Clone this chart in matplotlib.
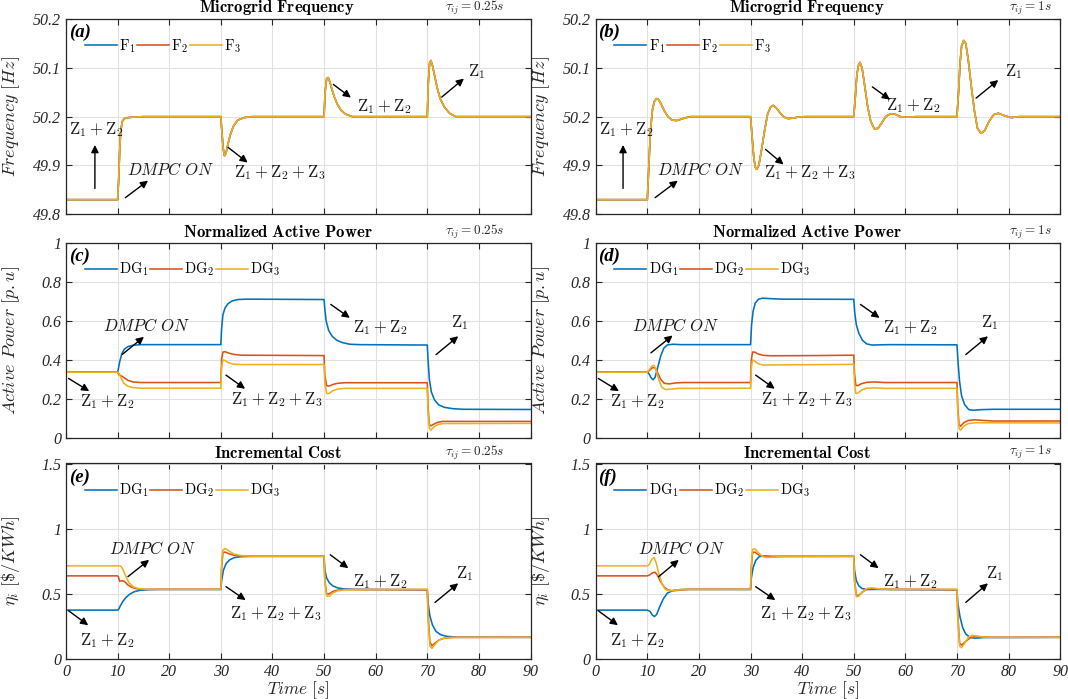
import matplotlib
matplotlib.use("Agg")
from matplotlib import pyplot as plt

# === Estilo general (tipo MATLAB) ===
plt.rcParams['mathtext.fontset'] = 'cm'
plt.rcParams['font.family'] = 'Liberation Serif'
plt.rcParams['font.style'] = 'italic'
plt.rcParams['axes.linewidth'] = 0.9

C_BLUE = '#0072BD'
C_RED = '#D95319'
C_YEL = '#EDB120'
C_AX = '#262626'

# === Frecuencia del microgrid (tau = 0.25 s) ===
t_fa = [0, 10, 10.2, 10.4, 10.6, 10.9, 11.3, 12, 13, 15, 30, 30.2, 30.45, 30.7, 31.0, 31.4, 31.9,
        32.5, 33.3, 34.5, 36, 50, 50.2, 50.5, 50.8, 51.1, 51.5, 52, 52.6, 53.3, 54.2, 55.5, 70,
        70.2, 70.45, 70.7, 71.0, 71.4, 71.9, 72.5, 73.3, 74.3, 75.5, 90]
freq_a = [49.83, 49.83, 49.87, 49.93, 49.97, 49.99, 49.996, 49.998, 49.999, 50.0, 50.0, 49.97,
          49.935, 49.92, 49.925, 49.945, 49.965, 49.982, 49.993, 49.998, 50.0, 50.0, 50.05, 50.078,
          50.08, 50.072, 50.057, 50.04, 50.025, 50.013, 50.005, 50.0, 50.0, 50.07, 50.11, 50.115,
          50.105, 50.085, 50.06, 50.037, 50.02, 50.007, 50.0, 50.0]

# === Frecuencia del microgrid (tau = 1 s) ===
t_fb = [0, 10, 10.3, 10.6, 11.0, 11.4, 11.8, 12.2, 12.7, 13.3, 14, 14.8, 15.7, 16.6, 17.5, 18.5,
        20, 30, 30.3, 30.6, 30.9, 31.2, 31.6, 32.1, 32.7, 33.3, 33.9, 34.4, 35.0, 35.7, 36.5, 37.3,
        38.2, 39.2, 40.5, 50, 50.3, 50.6, 50.9, 51.2, 51.6, 52.1, 52.7, 53.3, 54.0, 54.7, 55.4,
        56.2, 57.1, 58.0, 59.0, 60.5, 62, 70, 70.3, 70.6, 70.9, 71.3, 71.7, 72.2, 72.8, 73.4, 74.0,
        74.7, 75.4, 76.2, 77.1, 78.0, 79.2, 80.5, 82, 90]
freq_b = [49.83, 49.83, 49.90, 49.97, 50.015, 50.032, 50.037, 50.035, 50.025, 50.012, 50.0,
          49.993, 49.992, 49.995, 49.998, 50.0, 50.0, 50.0, 49.96, 49.92, 49.897, 49.892, 49.9,
          49.93, 49.97, 50.005, 50.02, 50.023, 50.018, 50.008, 49.999, 49.996, 49.997, 49.999,
          50.0, 50.0, 50.04, 50.085, 50.105, 50.111, 50.1, 50.065, 50.02, 49.99, 49.975, 49.976,
          49.987, 50.0, 50.006, 50.005, 50.0, 49.999, 50.0, 50.0, 50.05, 50.11, 50.145, 50.156,
          50.15, 50.115, 50.06, 50.01, 49.975, 49.966, 49.972, 49.99, 50.004, 50.007, 50.002,
          49.998, 50.0, 50.0]

# === Potencia activa normalizada (tau = 0.25 s) ===
t_pc1 = [0, 10, 10.15, 10.4, 10.8, 11.3, 12, 13, 14.5, 16, 30, 30.15, 30.4, 30.8, 31.4, 32.2, 33.3,
         35, 50, 50.15, 50.4, 50.9, 51.6, 52.5, 53.6, 55, 57, 70, 70.15, 70.4, 70.8, 71.4, 72.2,
         73.3, 75, 77, 90]
p_c1 = [0.337, 0.337, 0.355, 0.39, 0.43, 0.455, 0.468, 0.475, 0.478, 0.478, 0.478, 0.56, 0.63,
        0.665, 0.688, 0.702, 0.709, 0.711, 0.709, 0.66, 0.60, 0.55, 0.52, 0.50, 0.488, 0.48, 0.478,
        0.476, 0.40, 0.30, 0.235, 0.195, 0.17, 0.157, 0.15, 0.147, 0.146]
t_pc2 = [0, 10, 10.2, 10.6, 11.2, 12, 13, 14.5, 30, 30.15, 30.4, 30.8, 31.5, 32.5, 34, 50, 50.15,
         50.5, 51, 51.7, 52.6, 54, 70, 70.15, 70.4, 70.7, 71.2, 72, 73, 90]
p_c2 = [0.337, 0.337, 0.325, 0.32, 0.31, 0.295, 0.287, 0.284, 0.284, 0.40, 0.44, 0.442, 0.435,
        0.428, 0.424, 0.422, 0.32, 0.268, 0.266, 0.274, 0.28, 0.283, 0.283, 0.16, 0.07, 0.062,
        0.07, 0.08, 0.085, 0.085]
t_pc3 = [0, 10, 10.3, 10.7, 11.2, 12, 13, 14.5, 30, 30.15, 30.4, 30.8, 31.5, 32.5, 34, 50, 50.15,
         50.5, 51, 51.7, 52.6, 54, 70, 70.15, 70.4, 70.7, 71.2, 72, 73, 90]
p_c3 = [0.337, 0.337, 0.33, 0.305, 0.28, 0.265, 0.258, 0.255, 0.255, 0.36, 0.40, 0.397, 0.385,
        0.378, 0.376, 0.376, 0.28, 0.228, 0.228, 0.242, 0.25, 0.254, 0.254, 0.14, 0.05, 0.04,
        0.055, 0.068, 0.074, 0.075]

# === Potencia activa normalizada (tau = 1 s) ===
t_pd1 = [0, 10, 10.3, 10.7, 11.1, 11.5, 12, 12.6, 13.2, 13.9, 15, 16.5, 30, 30.2, 30.5, 30.9, 31.5,
         32.3, 33.5, 36, 50, 50.2, 50.5, 51, 51.7, 52.5, 53.5, 55, 57, 70, 70.2, 70.5, 70.9, 71.5,
         72.3, 73.2, 74.5, 77, 90]
p_d1 = [0.337, 0.337, 0.33, 0.31, 0.298, 0.31, 0.36, 0.42, 0.46, 0.477, 0.48, 0.478, 0.478, 0.58,
        0.65, 0.69, 0.71, 0.716, 0.714, 0.711, 0.71, 0.64, 0.58, 0.535, 0.5, 0.482, 0.476, 0.477,
        0.478, 0.477, 0.39, 0.29, 0.215, 0.17, 0.145, 0.142, 0.145, 0.147, 0.147]
t_pd2 = [0, 10, 10.4, 11, 11.5, 12, 12.6, 13.3, 14.2, 15.5, 17, 30, 30.15, 30.4, 30.8, 31.5, 32.5,
         34, 42, 50, 50.15, 50.4, 50.8, 51.5, 52.5, 54, 56, 70, 70.15, 70.4, 70.7, 71.3, 72.2, 73.5,
         75, 77, 90]
p_d2 = [0.337, 0.337, 0.345, 0.36, 0.36, 0.335, 0.3, 0.28, 0.277, 0.282, 0.284, 0.284, 0.40, 0.44,
        0.44, 0.43, 0.423, 0.421, 0.422, 0.424, 0.33, 0.27, 0.268, 0.278, 0.285, 0.287, 0.284,
        0.284, 0.16, 0.07, 0.06, 0.078, 0.09, 0.093, 0.09, 0.087, 0.087]
t_pd3 = [0, 10, 10.4, 10.9, 11.3, 11.7, 12.2, 12.8, 13.5, 14.5, 16, 30, 30.15, 30.4, 30.8, 31.5,
         32.5, 34, 50, 50.15, 50.4, 50.8, 51.5, 52.5, 54, 56, 70, 70.15, 70.4, 70.7, 71.3, 72.2,
         73.5, 90]
p_d3 = [0.337, 0.337, 0.35, 0.368, 0.372, 0.35, 0.3, 0.26, 0.248, 0.25, 0.254, 0.255, 0.36, 0.4,
        0.394, 0.38, 0.373, 0.374, 0.377, 0.28, 0.228, 0.23, 0.245, 0.255, 0.257, 0.254, 0.254,
        0.14, 0.05, 0.04, 0.06, 0.074, 0.078, 0.077]

# === Costo incremental (tau = 0.25 s) ===
t_ce1 = [0, 10, 10.2, 10.5, 11, 11.6, 12.3, 13.2, 14.3, 16, 18, 30, 30.15, 30.5, 31, 31.7, 32.6,
         33.8, 36, 50, 50.15, 50.5, 51, 51.7, 52.6, 53.8, 56, 70, 70.15, 70.5, 71, 71.7, 72.6, 73.8,
         76, 90]
c_e1 = [0.374, 0.374, 0.38, 0.405, 0.44, 0.47, 0.495, 0.515, 0.526, 0.531, 0.533, 0.533, 0.6, 0.68,
        0.73, 0.76, 0.777, 0.784, 0.787, 0.787, 0.68, 0.62, 0.585, 0.56, 0.545, 0.537, 0.533, 0.53,
        0.43, 0.33, 0.26, 0.21, 0.185, 0.172, 0.166, 0.165]
t_ce2 = [0, 10, 10.15, 10.4, 10.8, 11.3, 12, 12.8, 13.8, 15.5, 30, 30.15, 30.4, 30.8, 31.5, 32.5,
         34, 36, 50, 50.15, 50.5, 50.9, 51.6, 52.5, 54, 70, 70.15, 70.5, 70.9, 71.5, 72.3, 73.3, 75,
         90]
c_e2 = [0.637, 0.637, 0.63, 0.595, 0.6, 0.595, 0.567, 0.548, 0.537, 0.533, 0.533, 0.7, 0.815, 0.82,
        0.808, 0.795, 0.789, 0.787, 0.787, 0.6, 0.5, 0.497, 0.515, 0.527, 0.532, 0.531, 0.35, 0.13,
        0.1, 0.12, 0.145, 0.158, 0.164, 0.165]
t_ce3 = [0, 10, 10.6, 11, 11.5, 12.2, 13, 14, 15.5, 30, 30.15, 30.4, 30.8, 31.5, 32.5, 34, 36, 50,
         50.15, 50.5, 51, 51.7, 52.6, 54, 70, 70.15, 70.5, 70.9, 71.5, 72.3, 73.3, 75, 90]
c_e3 = [0.714, 0.714, 0.712, 0.69, 0.64, 0.585, 0.553, 0.54, 0.534, 0.534, 0.72, 0.835, 0.848,
        0.83, 0.805, 0.792, 0.788, 0.788, 0.6, 0.482, 0.48, 0.505, 0.522, 0.53, 0.534, 0.33, 0.1,
        0.08, 0.11, 0.145, 0.16, 0.165, 0.165]

# === Costo incremental (tau = 1 s) ===
t_cf1 = [0, 10, 10.5, 11, 11.4, 11.8, 12.4, 13.1, 13.9, 15, 16.5, 18, 30, 30.15, 30.5, 31, 31.7,
         32.5, 34, 50, 50.15, 50.5, 51, 51.6, 52.5, 54, 70, 70.15, 70.6, 71.1, 71.7, 72.5, 73.5, 75,
         90]
c_f1 = [0.374, 0.374, 0.365, 0.335, 0.325, 0.34, 0.4, 0.46, 0.505, 0.525, 0.532, 0.533, 0.533, 0.62,
        0.7, 0.755, 0.785, 0.79, 0.787, 0.787, 0.68, 0.6, 0.56, 0.54, 0.532, 0.533, 0.53, 0.43,
        0.32, 0.24, 0.19, 0.165, 0.158, 0.163, 0.165]
t_cf2 = [0, 10, 10.5, 11, 11.5, 12, 12.6, 13.3, 14, 15, 16.5, 18, 30, 30.15, 30.4, 30.8, 31.5, 32.5,
         34, 36, 50, 50.15, 50.5, 50.9, 51.6, 52.5, 53.5, 55, 57, 70, 70.15, 70.5, 70.9, 71.6, 72.5,
         73.5, 75, 77, 90]
c_f2 = [0.637, 0.637, 0.645, 0.66, 0.665, 0.64, 0.59, 0.55, 0.528, 0.522, 0.528, 0.533, 0.533, 0.7,
        0.815, 0.82, 0.8, 0.785, 0.782, 0.786, 0.787, 0.6, 0.49, 0.485, 0.51, 0.535, 0.54, 0.535,
        0.533, 0.531, 0.35, 0.12, 0.105, 0.13, 0.16, 0.172, 0.168, 0.165, 0.165]
t_cf3 = [0, 10, 10.4, 10.9, 11.3, 11.7, 12.2, 12.8, 13.5, 14.3, 15.5, 17, 30, 30.15, 30.4, 30.8,
         31.4, 32.2, 33, 34, 36, 50, 50.15, 50.5, 50.9, 51.6, 52.5, 53.5, 55, 57, 70, 70.15, 70.5,
         70.9, 71.5, 72.2, 72.9, 73.8, 75, 77, 90]
c_f3 = [0.714, 0.714, 0.725, 0.765, 0.778, 0.74, 0.66, 0.58, 0.533, 0.522, 0.527, 0.533, 0.534, 0.72,
        0.84, 0.845, 0.82, 0.79, 0.778, 0.78, 0.787, 0.788, 0.6, 0.478, 0.478, 0.51, 0.54, 0.545,
        0.537, 0.533, 0.534, 0.33, 0.1, 0.085, 0.12, 0.165, 0.18, 0.175, 0.168, 0.165, 0.165]

# === Ejes Y ===
freq_ticks = [49.8, 49.9, 50.0, 50.1, 50.2]
freq_ticklabels = ['49.8', '49.9', '50.2', '50.1', '50.2']
power_ticks = [0, 0.2, 0.4, 0.6, 0.8, 1.0]
power_ticklabels = ['0', '0.2', '0.4', '0.6', '0.8', '1']
cost_ticks = [0, 0.5, 1.0, 1.5]
cost_ticklabels = ['0', '0.5', '1', '1.5']
time_ticks = list(range(0, 91, 10))

Z12 = r'$\mathrm{Z}_1+\mathrm{Z}_2$'
Z123 = r'$\mathrm{Z}_1+\mathrm{Z}_2+\mathrm{Z}_3$'
Z1 = r'$\mathrm{Z}_1$'
DMPC = r'$DMPC\ ON$'

# (texto, posicion texto, cola flecha, punta flecha)
notes_a = [(Z12, (5.9, 49.973), (5.6, 49.853), (5.6, 49.942)),
           (DMPC, (20.3, 49.889), (11.5, 49.834), (15.9, 49.869)),
           (Z123, (41.5, 49.886), (31.4, 49.937), (35.2, 49.906)),
           (Z12, (61.7, 50.021), (51.8, 50.066), (55.2, 50.039)),
           (Z1, (79.6, 50.093), (72.8, 50.04), (77.1, 50.078))]
notes_b = [(Z12, (5.9, 49.973), (5.3, 49.853), (5.3, 49.942)),
           (DMPC, (20.3, 49.889), (11.5, 49.834), (15.9, 49.869)),
           (Z123, (41.5, 49.886), (32.9, 49.933), (36.4, 49.902)),
           (Z12, (61.5, 50.022), (53.6, 50.061), (57.0, 50.035)),
           (Z1, (81.0, 50.093), (73.7, 50.038), (78.0, 50.075))]
notes_c = [(DMPC, (15.5, 0.573), (10.9, 0.428), (15.1, 0.518)),
           (Z12, (8.0, 0.185), (0.5, 0.305), (4.5, 0.24)),
           (Z123, (40.8, 0.195), (31.0, 0.322), (34.7, 0.252)),
           (Z12, (61.0, 0.563), (51.3, 0.684), (55.0, 0.615)),
           (Z1, (76.3, 0.59), (71.7, 0.427), (76.0, 0.521))]
notes_d = [(DMPC, (15.5, 0.573), (10.7, 0.436), (14.9, 0.525)),
           (Z12, (8.0, 0.185), (0.5, 0.305), (4.5, 0.24)),
           (Z123, (40.8, 0.195), (31.0, 0.322), (34.7, 0.252)),
           (Z12, (61.0, 0.563), (51.3, 0.684), (55.0, 0.615)),
           (Z1, (76.3, 0.59), (71.7, 0.427), (76.0, 0.521))]
notes_e = [(DMPC, (16.7, 0.838), (12.0, 0.631), (16.1, 0.76)),
           (Z12, (8.0, 0.142), (0.5, 0.369), (4.3, 0.258)),
           (Z123, (40.7, 0.348), (31.0, 0.554), (34.8, 0.451)),
           (Z12, (61.0, 0.593), (51.2, 0.799), (54.7, 0.696)),
           (Z1, (77.3, 0.657), (71.5, 0.433), (76.0, 0.58))]
notes_f = [(DMPC, (16.7, 0.838), (12.2, 0.631), (16.1, 0.76)),
           (Z12, (8.0, 0.142), (0.5, 0.369), (4.3, 0.258)),
           (Z123, (40.7, 0.348), (31.0, 0.554), (34.8, 0.451)),
           (Z12, (61.0, 0.593), (51.3, 0.799), (54.8, 0.696)),
           (Z1, (77.3, 0.657), (71.7, 0.433), (76.0, 0.58))]


def setup_axes(ax, ylim, yticks, yticklabels, ylabel, title, tau, tag, bottom):
    ax.set_xlim(0, 90)
    ax.set_ylim(*ylim)
    ax.set_xticks(time_ticks)
    ax.set_yticks(yticks)
    ax.set_yticklabels(yticklabels)
    ax.grid(True, color='#e1e1e1', linewidth=0.8)
    ax.set_axisbelow(True)
    ax.tick_params(direction='in', top=True, right=True, length=4, width=0.8, color=C_AX,
                   labelsize=11.5, labelcolor=C_AX, labelbottom=bottom)
    for s in ax.spines.values():
        s.set_color(C_AX)
    ax.set_ylabel(ylabel, fontsize=13, color=C_AX)
    ax.yaxis.set_label_coords(-0.095, 0.5)
    if bottom:
        ax.set_xlabel(r'$Time\ [s]$', fontsize=12.5, color=C_AX)
        ax.xaxis.set_label_coords(0.5, -0.105)
    ax.text(0.455, 1.01, title, transform=ax.transAxes, ha='center', va='bottom', fontsize=12)
    ax.text(tau[1], 1.055, tau[0], transform=ax.transAxes, ha='center', va='center',
            fontsize=9.5, color=C_AX)
    ax.text(0.006, 0.93, tag, transform=ax.transAxes, ha='left', va='center', fontsize=13.5,
            fontweight='bold', fontstyle='italic')


def draw_notes(ax, notes):
    for label, pos, tail, head in notes:
        ax.text(pos[0], pos[1], label, ha='center', va='center', fontsize=12, color='#1a1a1a')
        ax.annotate('', xy=head, xytext=tail,
                    arrowprops=dict(arrowstyle='-|>', color='k', lw=1.0, mutation_scale=11,
                                    shrinkA=0, shrinkB=0))


def add_legend(ax, names):
    ax.legend(names, loc='center left', bbox_to_anchor=(0.04, 0.862), ncol=3, frameon=False,
              handlelength=2.2, handletextpad=0.15, columnspacing=0.12, borderpad=0,
              borderaxespad=0, fontsize=10.5)


fig = plt.figure(figsize=(10.68, 6.99), dpi=100)
W, H = 1068, 699
cols = [66, 595.7]
rows = [19, 242.7, 463.5]
aw, ah = 464.5, 195.3
axes = [[fig.add_axes([c / W, 1 - (r + ah) / H, aw / W, ah / H]) for c in cols] for r in rows]

tau_left = (r'$\tau_{ij}=0.25s$', 0.88)
tau_right = (r'$\tau_{ij}=1s$', 0.935)
F_names = [r'$\mathrm{F}_1$', r'$\mathrm{F}_2$', r'$\mathrm{F}_3$']
DG_names = [r'$\mathrm{DG}_1$', r'$\mathrm{DG}_2$', r'$\mathrm{DG}_3$']
lw = 1.15

# --- Frecuencia ---
for ax, tt, ff, tau, tag, notes in [(axes[0][0], t_fa, freq_a, tau_left, '(a)', notes_a),
                                    (axes[0][1], t_fb, freq_b, tau_right, '(b)', notes_b)]:
    ax.plot(tt, ff, color=C_BLUE, lw=lw)
    ax.plot(tt, ff, color=C_RED, lw=lw)
    ax.plot(tt, ff, color=C_YEL, lw=lw)
    setup_axes(ax, (49.8, 50.2), freq_ticks, freq_ticklabels, r'$Frequency\ [Hz]$',
               r'$\mathbf{Microgrid\ Frequency}$', tau, tag, False)
    add_legend(ax, F_names)
    draw_notes(ax, notes)

# --- Potencia activa ---
for ax, series, tau, tag, notes in [
        (axes[1][0], [(t_pc1, p_c1), (t_pc2, p_c2), (t_pc3, p_c3)], tau_left, '(c)', notes_c),
        (axes[1][1], [(t_pd1, p_d1), (t_pd2, p_d2), (t_pd3, p_d3)], tau_right, '(d)', notes_d)]:
    for (tt, pp), col in zip(series, [C_BLUE, C_RED, C_YEL]):
        ax.plot(tt, pp, color=col, lw=lw)
    setup_axes(ax, (0, 1), power_ticks, power_ticklabels, r'$Active\ Power\ [p.u]$',
               r'$\mathbf{Normalized\ Active\ Power}$', tau, tag, False)
    add_legend(ax, DG_names)
    draw_notes(ax, notes)

# --- Costo incremental ---
for ax, series, tau, tag, notes in [
        (axes[2][0], [(t_ce1, c_e1), (t_ce2, c_e2), (t_ce3, c_e3)], tau_left, '(e)', notes_e),
        (axes[2][1], [(t_cf1, c_f1), (t_cf2, c_f2), (t_cf3, c_f3)], tau_right, '(f)', notes_f)]:
    for (tt, cc), col in zip(series, [C_BLUE, C_RED, C_YEL]):
        ax.plot(tt, cc, color=col, lw=lw)
    setup_axes(ax, (0, 1.5), cost_ticks, cost_ticklabels, r'$\eta_i\ [\$/KWh]$',
               r'$\mathbf{Incremental\ Cost}$', tau, tag, True)
    add_legend(ax, DG_names)
    draw_notes(ax, notes)

fig.savefig('out.png', dpi=100, facecolor='white')
plt.close(fig)
